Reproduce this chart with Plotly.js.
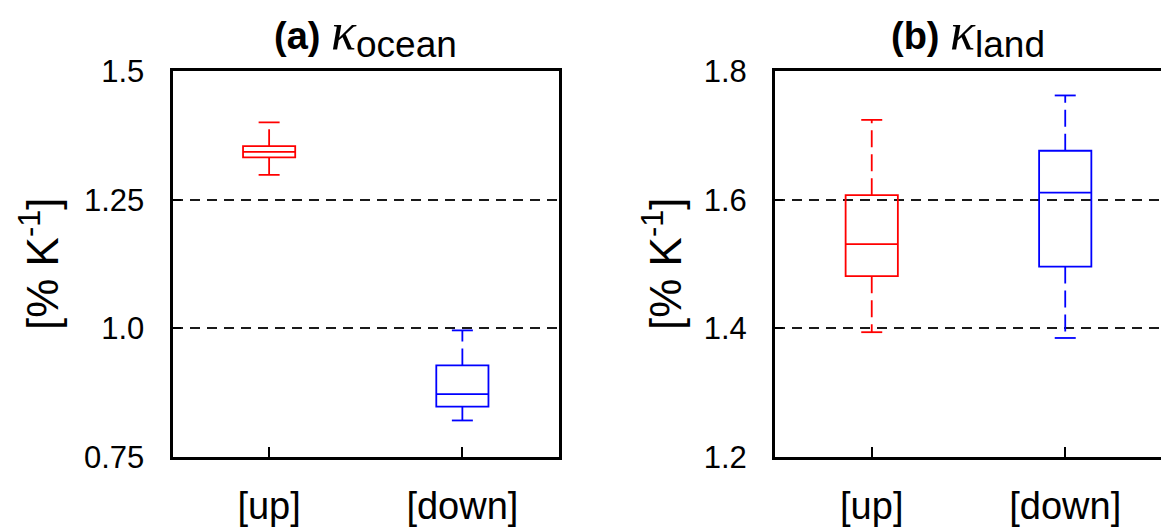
<!DOCTYPE html>
<html>
<head>
<meta charset="utf-8">
<script src="https://cdn.plot.ly/plotly-3.0.1.min.js"></script>
<style>html,body{margin:0;padding:0;background:#fff;}#chart{width:1161px;height:530px;}</style>
</head>
<body>
<div id="chart"></div>
<script>
// ---- data ----
const categories = ['[up]', '[down]'];
// panel (a) ocean
const oceanLower  = [1.298, 0.821];
const oceanQ1     = [1.332, 0.848];
const oceanMedian = [1.343, 0.872];
const oceanQ3     = [1.354, 0.928];
const oceanUpper  = [1.400, 0.996];
// panel (b) land
const landLower  = [1.394, 1.385];
const landQ1     = [1.481, 1.496];
const landMedian = [1.531, 1.611];
const landQ3     = [1.607, 1.676];
const landUpper  = [1.724, 1.762];
// tick labels
const oceanTickVals = [0.75, 1.0, 1.25, 1.5];
const oceanTickText = ['0.75', '1.0', '1.25', '1.5'];
const landTickVals = [1.2, 1.4, 1.6, 1.8];
const landTickText = ['1.2', '1.4', '1.6', '1.8'];

// ---- styles ----
const boxColors = ['#ff0000', '#0000ff'];
const FONT = 'Liberation Sans, Arial, sans-serif';

const traces = [];
function addPanel(xa, ya, lower, q1, med, q3, upper) {
  categories.forEach((c, i) => {
    traces.push({
      type: 'box', xaxis: xa, yaxis: ya,
      x: [c], q1: [q1[i]], median: [med[i]], q3: [q3[i]],
      lowerfence: [q1[i]], upperfence: [q3[i]],
      width: 0.27, whiskerwidth: 0,
      line: {color: boxColors[i], width: 1.8},
      fillcolor: 'rgba(0,0,0,0)',
      boxpoints: false, hoverinfo: 'skip'
    });
    traces.push({
      type: 'scatter', mode: 'lines', xaxis: xa, yaxis: ya,
      x: [c, c, null, c, c],
      y: [q3[i], upper[i], null, q1[i], lower[i]],
      line: {color: boxColors[i], width: 1.8, dash: '17px,7px'},
      connectgaps: false, hoverinfo: 'skip'
    });
    traces.push({
      type: 'scatter', mode: 'markers', xaxis: xa, yaxis: ya,
      x: [c, c], y: [upper[i], lower[i]],
      marker: {symbol: 'line-ew', size: 15, color: boxColors[i],
               line: {color: boxColors[i], width: 1.8}},
      hoverinfo: 'skip'
    });
  });
}
addPanel('x', 'y', oceanLower, oceanQ1, oceanMedian, oceanQ3, oceanUpper);
addPanel('x2', 'y2', landLower, landQ1, landMedian, landQ3, landUpper);

const W = 1161;
const xAxisBase = {
  type: 'category', categoryorder: 'array', categoryarray: categories,
  showline: true, linewidth: 3, linecolor: '#000',
  ticks: 'inside', ticklen: 10, tickwidth: 2, tickcolor: '#000',
  tickfont: {family: FONT, size: 38, color: '#000'},
  ticklabelstandoff: 13,
  showgrid: false, zeroline: false, fixedrange: true
};
const yAxisBase = {
  showline: true, linewidth: 3, linecolor: '#000',
  ticks: 'inside', ticklen: 8, tickwidth: 2, tickcolor: '#000',
  tickfont: {family: FONT, size: 31, color: '#000'},
  ticklabelstandoff: 19,
  showgrid: true, gridcolor: '#1a1a1a', gridwidth: 2, griddash: '10px,7px',
  zeroline: false, fixedrange: true, tickmode: 'array'
};

const titleY = 1 + (71 - 34) / 386;
const layout = {
  width: W, height: 530,
  margin: {l: 0, r: 0, t: 71, b: 73, pad: 0},
  paper_bgcolor: '#fff', plot_bgcolor: '#fff',
  showlegend: false,
  xaxis: Object.assign({}, xAxisBase, {domain: [172.5 / W, 559 / W], range: [-0.5, 1.5], mirror: true, anchor: 'y'}),
  yaxis: Object.assign({}, yAxisBase, {range: [0.75, 1.5], tickvals: oceanTickVals, ticktext: oceanTickText, mirror: true, anchor: 'x'}),
  xaxis2: Object.assign({}, xAxisBase, {domain: [775 / W, 1], range: [-0.5, 1.495], mirror: true, anchor: 'y2'}),
  yaxis2: Object.assign({}, yAxisBase, {range: [1.2, 1.8], tickvals: landTickVals, ticktext: landTickText, mirror: false, anchor: 'x2'}),
  annotations: [
    {xref: 'paper', yref: 'paper', x: 365.5 / W, y: titleY, xanchor: 'center', yanchor: 'middle', showarrow: false,
     text: '<b>(a)</b> <span style="font-size:52px;font-family:Liberation Serif"><i>κ</i></span><sub><span style="font-size:37px">ocean</span></sub>',
     font: {family: FONT, size: 38, color: '#000'}},
    {xref: 'paper', yref: 'paper', x: 968 / W, y: titleY, xanchor: 'center', yanchor: 'middle', showarrow: false,
     text: '<b>(b)</b> <span style="font-size:52px;font-family:Liberation Serif"><i>κ</i></span><sub><span style="font-size:37px">land</span></sub>',
     font: {family: FONT, size: 38, color: '#000'}},
    {xref: 'paper', yref: 'paper', x: 39 / W, y: 0.5, xanchor: 'center', yanchor: 'middle', showarrow: false, textangle: -90,
     text: '[% K<sup>-1</sup>]', font: {family: FONT, size: 44, color: '#000'}},
    {xref: 'paper', yref: 'paper', x: 662 / W, y: 0.5, xanchor: 'center', yanchor: 'middle', showarrow: false, textangle: -90,
     text: '[% K<sup>-1</sup>]', font: {family: FONT, size: 44, color: '#000'}}
  ]
};

Plotly.newPlot('chart', traces, layout, {staticPlot: true, displayModeBar: false});
</script>
</body>
</html>
